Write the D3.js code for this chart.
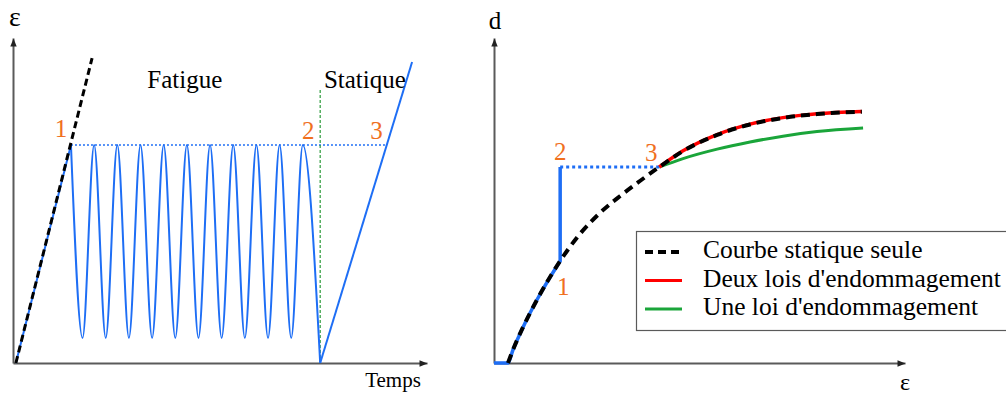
<!doctype html>
<html>
<head>
<meta charset="UTF-8">
<title>fatigue statique</title>
<script src="https://d3js.org/d3.v7.min.js"></script>
<style>
  body { margin: 0; background: #fff; }
  text { font-family: "Liberation Serif", "Times New Roman", serif; }
</style>
</head>
<body>
<script>
// ---- left panel : deformation vs temps ----
var rampT = [0.7, 14.0], rampE = [0, 67.1];
var dashT = [0.7, 19.1], dashE = [0, 93.8];
var fatigueT = [14.0, 16.8, 19.6, 22.4, 25.2, 28.0, 30.8, 33.6, 36.4, 39.2, 42.0, 44.8,
                47.6, 50.4, 53.2, 56.0, 58.8, 61.6, 64.4, 67.2, 70.0, 74.2];
var fatigueE = [67.1, 7.7, 67.1, 7.7, 67.1, 7.7, 67.1, 7.7, 67.1, 7.7, 67.1, 7.7,
                67.1, 7.7, 67.1, 7.7, 67.1, 7.7, 67.1, 7.7, 67.1, 0];
var staticT = [74.2, 96.4], staticE = [0, 92.6];
var level = 67.1, point3T = 90.2, limitE = 84.6;

// ---- right panel : endommagement vs deformation ----
var curveEps = [3.4, 4.6, 7.1, 10.7, 16.1, 20.9, 25.8, 30.7, 35.5, 40.2, 46.0, 54.3, 62.3, 70.3, 78.6, 89.5];
var curveD   = [0, 4.0, 11.1, 20.0, 31.4, 39.7, 46.2, 51.4, 56.0, 60.3, 65.2, 70.2, 73.4, 75.4, 76.6, 77.3];
var redEps   = [40.2, 46.0, 54.3, 62.3, 70.3, 78.6, 89.5];
var redD     = [60.3, 65.3, 70.3, 73.5, 75.5, 76.7, 77.4];
var greenEps = [40.2, 46.0, 54.3, 62.3, 70.3, 78.6, 89.8];
var greenD   = [60.3, 62.9, 65.8, 68.0, 69.8, 71.2, 72.3];
var blueEps  = [0, 3.4, 4.6, 7.1, 10.7, 16.1];
var blueD    = [0, 0, 4.0, 11.1, 20.0, 31.4];
var point1 = [16.1, 31.4], point3 = [40.2, 60.3];

var legendLabels = ["Courbe statique seule", "Deux lois d'endommagement", "Une loi d'endommagement"];

var w = 1006, h = 394;
var blue = "#1e6ef5", orange = "#f0701e", axisCol = "#5a5a5a";

var svg = d3.select("body").append("svg").attr("width", w).attr("height", h)
    .attr("font-family", "'Liberation Serif', 'Times New Roman', serif");

svg.append("defs").append("marker")
    .attr("id", "arrow")
    .attr("viewBox", "0 0 10 10")
    .attr("refX", 10).attr("refY", 5)
    .attr("markerWidth", 9).attr("markerHeight", 8)
    .attr("markerUnits", "userSpaceOnUse")
    .attr("orient", "auto")
    .append("path").attr("d", "M0,1L10,5L0,9Z").attr("fill", "#222");

function zip(a, b) { return a.map(function(v, i) { return [v, b[i]]; }); }

function axes(x, y) {
    var gx = svg.append("g").attr("transform", "translate(0," + y.range()[0] + ")")
        .call(d3.axisBottom(x).tickValues([]).tickSizeOuter(0));
    var gy = svg.append("g").attr("transform", "translate(" + x.range()[0] + ",0)")
        .call(d3.axisLeft(y).tickValues([]).tickSizeOuter(0));
    [gx, gy].forEach(function(g) {
        g.select(".domain").attr("stroke", axisCol).attr("stroke-width", 2).attr("marker-end", "url(#arrow)");
    });
}

function label(txt, x, y, size, col, anchor) {
    svg.append("text").attr("x", x).attr("y", y).attr("font-size", size)
        .attr("fill", col || "#000").attr("text-anchor", anchor || "middle").text(txt);
}

// ===== left =====
var xL = d3.scaleLinear().domain([0, 100]).range([13, 427]);
var yL = d3.scaleLinear().domain([0, 100]).range([363, 38]);
var lineL = d3.line().x(function(d) { return xL(d[0]); }).y(function(d) { return yL(d[1]); });

axes(xL, yL);

// dotted level line and limit line
svg.append("path").attr("d", lineL([[rampT[1], level], [point3T, level]]))
    .attr("fill", "none").attr("stroke", blue).attr("stroke-width", 1.5).attr("stroke-dasharray", "2,2");
svg.append("path").attr("d", lineL([[staticT[0], 0], [staticT[0], limitE]]))
    .attr("fill", "none").attr("stroke", "#2a9a3a").attr("stroke-width", 1.2).attr("stroke-dasharray", "3,2");

svg.append("path").attr("d", lineL(zip(rampT, rampE)))
    .attr("fill", "none").attr("stroke", blue).attr("stroke-width", 2);
svg.append("path").attr("d", lineL.curve(d3.curveMonotoneX)(zip(fatigueT, fatigueE)))
    .attr("fill", "none").attr("stroke", blue).attr("stroke-width", 2);
lineL.curve(d3.curveLinear);
svg.append("path").attr("d", lineL(zip(staticT, staticE)))
    .attr("fill", "none").attr("stroke", blue).attr("stroke-width", 2);
svg.append("path").attr("d", lineL(zip(dashT, dashE)))
    .attr("fill", "none").attr("stroke", "#000").attr("stroke-width", 3).attr("stroke-dasharray", "7,4");

label("\u03b5", 15, 26, 28);
label("Temps", 393, 387, 21);
label("Fatigue", xL(41.5), yL(84.6), 25);
label("Statique", xL(85.0), yL(84.6), 25);
label("1", xL(rampT[1]) - 10, yL(level) - 8, 25, orange);
label("2", xL(staticT[0]) - 12, yL(level) - 6, 25, orange);
label("3", xL(point3T) - 10, yL(level) - 6, 25, orange);

// ===== right =====
var xR = d3.scaleLinear().domain([0, 100]).range([494, 905]);
var yR = d3.scaleLinear().domain([0, 100]).range([363, 38]);
var lineR = d3.line().curve(d3.curveMonotoneX).x(function(d) { return xR(d[0]); }).y(function(d) { return yR(d[1]); });
var straight = d3.line().x(function(d) { return xR(d[0]); }).y(function(d) { return yR(d[1]); });

axes(xR, yR);

svg.append("path").attr("d", straight([[point1[0], point3[1]], point3]))
    .attr("fill", "none").attr("stroke", blue).attr("stroke-width", 3).attr("stroke-dasharray", "3,3");
svg.append("path").attr("d", lineR(zip(greenEps, greenD)))
    .attr("fill", "none").attr("stroke", "#1aa53a").attr("stroke-width", 3);
svg.append("path").attr("d", lineR(zip(redEps, redD)))
    .attr("fill", "none").attr("stroke", "#ff0000").attr("stroke-width", 3.5);
svg.append("path").attr("d", lineR(zip(blueEps, blueD)) + straight([point1, [point1[0], point3[1]]]).replace("M", "L"))
    .attr("fill", "none").attr("stroke", blue).attr("stroke-width", 3.5);
svg.append("path").attr("d", lineR(zip(curveEps, curveD)))
    .attr("fill", "none").attr("stroke", "#000").attr("stroke-width", 4).attr("stroke-dasharray", "9,6");

label("d", 495, 29, 25);
label("\u03b5", 905, 390, 24);
label("1", xR(point1[0]) + 3, yR(point1[1]) + 34, 25, orange);
label("2", xR(point1[0]), yR(point3[1]) - 7, 25, orange);
label("3", xR(point3[0]) - 8, yR(point3[1]) - 6, 25, orange);

// legend
var lg = svg.append("g");
lg.append("rect").attr("x", 636.5).attr("y", 231.5).attr("width", 380).attr("height", 99)
    .attr("fill", "#fff").attr("stroke", axisCol).attr("stroke-width", 1.2);
var sampleStyle = [
    {col: "#000", dash: "8,5", wd: 4},
    {col: "#ff0000", dash: null, wd: 3},
    {col: "#1aa53a", dash: null, wd: 3}
];
legendLabels.forEach(function(t, i) {
    var yy = 252 + i * 28.5;
    lg.append("line").attr("x1", 645).attr("x2", 682).attr("y1", yy).attr("y2", yy)
        .attr("stroke", sampleStyle[i].col).attr("stroke-width", sampleStyle[i].wd)
        .attr("stroke-dasharray", sampleStyle[i].dash);
    lg.append("text").attr("x", 703).attr("y", yy + 6).attr("font-size", 25.5).text(t);
});
</script>
</body>
</html>
